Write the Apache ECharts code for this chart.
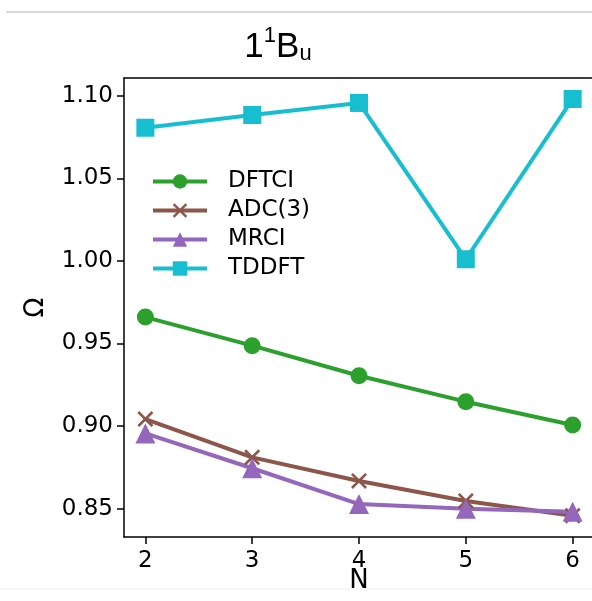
<!DOCTYPE html>
<html><head><meta charset="utf-8">
<script src="https://cdn.jsdelivr.net/npm/echarts@6/dist/echarts.min.js"></script>
<style>html,body{margin:0;padding:0;overflow:hidden;background:#fff}#c{width:596px;height:601px}</style>
</head><body><div id="c"></div>
<script>
const N = [2, 3, 4, 5, 6];
const dftci = [0.966, 0.9487, 0.9305, 0.9148, 0.9007];
const adc3  = [0.9043, 0.8811, 0.8668, 0.8547, 0.8458];
const mrci  = [0.8956, 0.8745, 0.8528, 0.8500, 0.8482];
const tddft = [1.0806, 1.0883, 1.0956, 1.0010, 1.0980];
const xTicks = [2, 3, 4, 5, 6];
const yTicks = [0.85, 0.90, 0.95, 1.00, 1.05, 1.10];

const xSym = 'path://M0,1.4L1.4,0L6,4.6L10.6,0L12,1.4L7.4,6L12,10.6L10.6,12L6,7.4L1.4,12L0,10.6L4.6,6Z';
const pairs = a => N.map((x, i) => [x, a[i]]);
function mk(name, data, color, symbol, size) {
  return { name, type: 'line', data: pairs(data), symbol, symbolSize: size,
    lineStyle: { color, width: 4 }, itemStyle: { color }, showSymbol: true, z: 3,
    emphasis: { disabled: true }, animation: false };
}
const chart = echarts.init(document.getElementById('c'));
chart.setOption({
  animation: false,
  textStyle: { fontFamily: 'DejaVu Sans' },
  grid: { left: 124, top: 78, right: 2, bottom: 64, show: false, containLabel: false, outerBoundsMode: 'none' },
  title: {
    text: '{a|1}{s|1}{a|B}{u|u}', left: 273, top: 20, textAlign: 'center',
    textStyle: { fontWeight: 'normal', rich: {
      a: { fontFamily: 'Liberation Sans', fontSize: 35, fontWeight: 'normal', color: '#000', verticalAlign: 'bottom', lineHeight: 40 },
      s: { fontFamily: 'Liberation Sans', fontSize: 22, fontWeight: 'normal', color: '#000', verticalAlign: 'top', lineHeight: 40, padding: [0, 0, 16, 0] },
      u: { fontFamily: 'Liberation Sans', fontSize: 22, fontWeight: 'normal', color: '#000', verticalAlign: 'bottom', lineHeight: 40, padding: [14, 0, 0, 0] }
    } }
  },
  legend: {
    orient: 'vertical', left: 146, top: 162, itemWidth: 54, itemHeight: 18, itemGap: 0,
    lineStyle: { width: 4 },
    textStyle: { fontSize: 23, color: '#000', fontFamily: 'DejaVu Sans', lineHeight: 29, padding: [0, 0, 0, 16] },
    data: ['DFTCI', 'ADC(3)', 'MRCI', 'TDDFT']
  },
  xAxis: [{
    type: 'value', min: 1.8, max: 6.2, name: 'N', nameLocation: 'middle', nameGap: 31, nameMoveOverlap: false,
    nameTextStyle: { fontSize: 26, color: '#000', fontFamily: 'DejaVu Sans' },
    axisLine: { lineStyle: { color: '#000', width: 1.5 } },
    axisTick: { show: true, length: 7, lineStyle: { color: '#000', width: 1.5 }, customValues: xTicks },
    axisLabel: { fontSize: 23, color: '#000', margin: 13, customValues: xTicks },
    splitLine: { show: false }
  }, {
    type: 'value', position: 'top', min: 1.8, max: 6.2,
    axisLine: { show: true, onZero: false, lineStyle: { color: '#000', width: 1.5 } },
    axisTick: { show: false }, axisLabel: { show: false }, splitLine: { show: false }
  }],
  yAxis: {
    type: 'value', min: 0.8329, max: 1.1107, name: 'Ω', nameLocation: 'middle', nameGap: 75, nameRotate: 90, nameMoveOverlap: false,
    nameTextStyle: { fontSize: 26, color: '#000', fontFamily: 'DejaVu Sans' },
    axisLine: { lineStyle: { color: '#000', width: 1.5 } },
    axisTick: { show: true, length: 7, lineStyle: { color: '#000', width: 1.5 }, customValues: yTicks },
    axisLabel: { fontSize: 23, color: '#000', margin: 11, customValues: yTicks, formatter: v => v.toFixed(2) },
    splitLine: { show: false }
  },
  graphic: [
    { type: 'line', shape: { x1: 6, y1: 12, x2: 596, y2: 12 }, style: { stroke: '#cccccc', lineWidth: 1.5 }, silent: true },
    { type: 'line', shape: { x1: 0, y1: 589, x2: 596, y2: 589 }, style: { stroke: '#eeeeee', lineWidth: 1 }, silent: true }
  ],
  series: [
    mk('DFTCI', dftci, '#2ca02c', 'circle', 17),
    mk('ADC(3)', adc3, '#8c564b', xSym, 16),
    mk('MRCI', mrci, '#9467bd', 'triangle', 20),
    mk('TDDFT', tddft, '#17becf', 'rect', 18)
  ]
});
</script></body></html>
